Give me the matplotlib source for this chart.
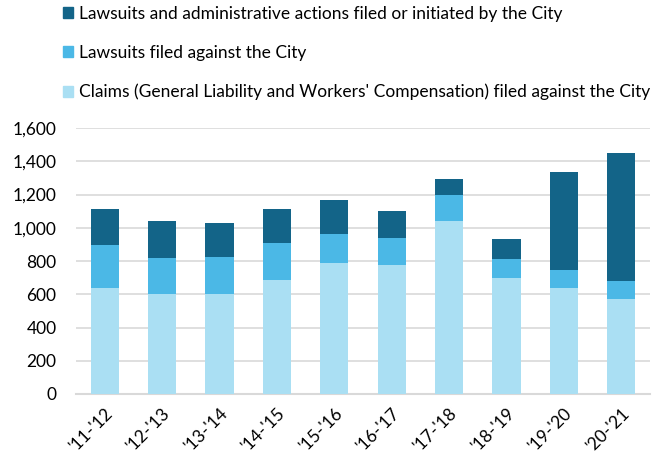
import matplotlib
matplotlib.use("Agg")
import matplotlib.pyplot as plt
from matplotlib.patches import Patch

plt.rcParams['font.family'] = ['Lato', 'DejaVu Sans']

years = ["'11-'12", "'12-'13", "'13-'14", "'14-'15", "'15-'16",
         "'16-'17", "'17-'18", "'18-'19", "'19-'20", "'20-'21"]
claims = [637, 603, 603, 685, 787, 774, 1040, 695, 637, 569]
suits_against = [261, 214, 220, 222, 175, 164, 157, 116, 108, 108]
suits_by_city = [215, 223, 205, 204, 205, 161, 98, 121, 589, 771]

labels = ["Lawsuits and administrative actions filed or initiated by the City",
          "Lawsuits filed against the City",
          "Claims (General Liability and Workers' Compensation) filed against the City"]
c_dark, c_mid, c_light = "#136488", "#4bb8e6", "#aadff3"

fig = plt.figure(figsize=(6.58, 4.54), dpi=100)
ax = fig.add_axes([76/658, 1-394/454, (650-76)/658, (394-128)/454])

x = list(range(len(years)))
w = 0.49
b2 = [a + b for a, b in zip(claims, suits_against)]
ax.bar(x, claims, w, color=c_light, zorder=3)
ax.bar(x, suits_against, w, bottom=claims, color=c_mid, zorder=3)
ax.bar(x, suits_by_city, w, bottom=b2, color=c_dark, zorder=3)

ax.set_xlim(-0.5, len(years) - 0.5)
ax.set_ylim(0, 1600)
ax.set_yticks(range(0, 1601, 200))
ax.set_yticklabels([f"{v:,}" for v in range(0, 1601, 200)])
ax.yaxis.grid(True, color="#d9d9d9", linewidth=1.2, zorder=0)
ax.set_axisbelow(True)
for s in ["top", "right", "left"]:
    ax.spines[s].set_visible(False)
ax.spines["bottom"].set_color("#d9d9d9")
ax.spines["bottom"].set_linewidth(1.5)
ax.tick_params(axis="both", length=0, labelsize=12.5, colors="#000000")
ax.tick_params(axis="y", pad=14)
ax.set_xticks(x)
ax.set_xticklabels(years, rotation=45, ha="right", rotation_mode="anchor")
ax.tick_params(axis="x", pad=8)

handles = [Patch(color=c_dark), Patch(color=c_mid), Patch(color=c_light)]
fig.legend(handles, labels, loc="upper left", bbox_to_anchor=(63/658, 1 - 6/454),
           frameon=False, fontsize=12.5, handlelength=0.6, handleheight=0.6,
           handletextpad=0.3, labelspacing=1.32, borderpad=0, borderaxespad=0)

fig.savefig("out.png", dpi=100)
